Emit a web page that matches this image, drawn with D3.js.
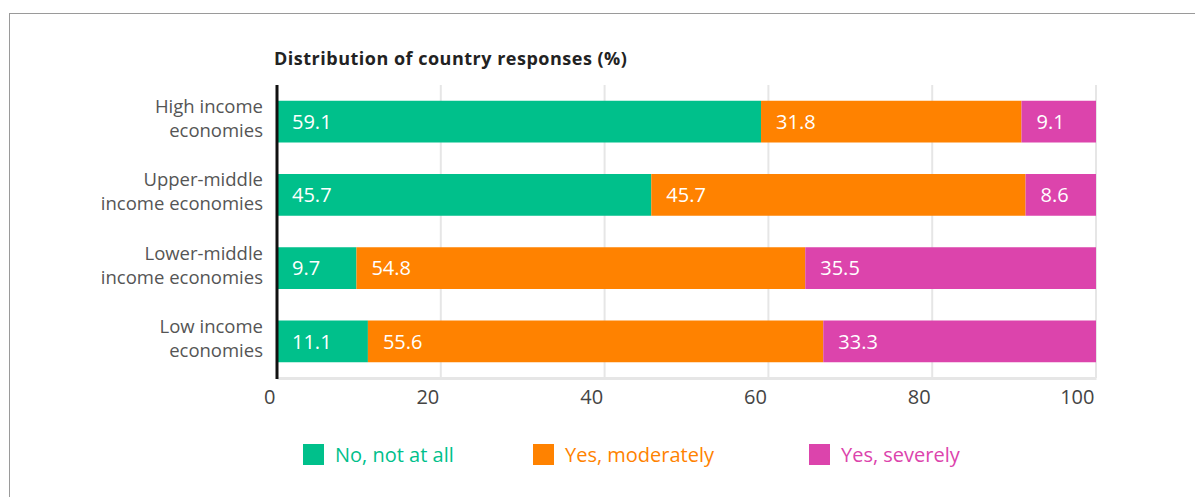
<!DOCTYPE html>
<html>
<head>
<meta charset="utf-8">
<script src="https://cdn.jsdelivr.net/npm/d3@7"></script>
<style>
  body { margin: 0; background: #fff; font-family: "Open Sans", sans-serif; }
  #chart svg { display: block; }
</style>
</head>
<body>
<div id="chart"></div>
<script>
const categories = [
  ["High income", "economies"],
  ["Upper-middle", "income economies"],
  ["Lower-middle", "income economies"],
  ["Low income", "economies"]
];
const seriesNames = ["No, not at all", "Yes, moderately", "Yes, severely"];
const noValues = [59.1, 45.7, 9.7, 11.1];
const moderateValues = [31.8, 45.7, 54.8, 55.6];
const severeValues = [9.1, 8.6, 35.5, 33.3];
const tickValues = [0, 20, 40, 60, 80, 100];
const colors = ["#00c08b", "#ff8200", "#dc44ac"];

const W = 1195, H = 497;
const margin = { top: 85, right: 99, bottom: 119, left: 277 };
const width = W - margin.left - margin.right;
const height = H - margin.top - margin.bottom;
const font = "'Open Sans', sans-serif";

const svg = d3.select("#chart").append("svg")
  .attr("width", W).attr("height", H)
  .attr("font-family", font);

// outer frame
svg.append("rect")
  .attr("x", 9.5).attr("y", 13.5)
  .attr("width", W + 20).attr("height", H + 20)
  .attr("fill", "none").attr("stroke", "#9a9a9a");

svg.append("text")
  .attr("x", 274).attr("y", 65)
  .attr("font-size", 18).attr("font-weight", 700).attr("fill", "#222")
  .attr("letter-spacing", 0.5)
  .text("Distribution of country responses (%)");

const g = svg.append("g").attr("transform", `translate(${margin.left},${margin.top})`);

const x = d3.scaleLinear().domain([0, 100]).range([0, width]);
const y = d3.scaleBand().domain(d3.range(categories.length)).range([0, height])
  .paddingInner(0.43).paddingOuter(0.215);

// grid lines
g.append("g").selectAll("line").data(tickValues.slice(1)).join("line")
  .attr("x1", d => x(d)).attr("x2", d => x(d))
  .attr("y1", 0).attr("y2", height)
  .attr("stroke", "#e6e6e6").attr("stroke-width", 2);

// bottom axis
const xAxis = g.append("g").attr("transform", `translate(0,${height})`)
  .call(d3.axisBottom(x).tickValues(tickValues).tickSize(0).tickPadding(9));
xAxis.select(".domain").attr("stroke", "#e6e6e6").attr("stroke-width", 3);
xAxis.selectAll("text")
  .attr("font-size", 20).attr("fill", "#444")
  .attr("font-family", font)
  .attr("text-anchor", "end").attr("dx", -2).attr("dy", "0.85em");

// stacked data
const rows = categories.map((c, i) => ({ i, no: noValues[i], mod: moderateValues[i], sev: severeValues[i] }));
const stack = d3.stack().keys(["no", "mod", "sev"])(rows);

const layers = g.append("g").selectAll("g").data(stack).join("g")
  .attr("fill", (d, k) => colors[k]);

layers.selectAll("rect").data(d => d).join("rect")
  .attr("x", d => x(d[0]))
  .attr("y", d => y(d.data.i))
  .attr("width", d => x(d[1]) - x(d[0]))
  .attr("height", y.bandwidth());

layers.selectAll("text").data(d => d.map(p => ({ p, key: d.key }))).join("text")
  .attr("x", d => x(d.p[0]) + 15)
  .attr("y", d => y(d.p.data.i) + y.bandwidth() / 2)
  .attr("dy", "0.36em")
  .attr("fill", "#fff").attr("font-size", 20)
  .text(d => d.p.data[d.key].toFixed(1));

// y labels
const yl = g.append("g").selectAll("text").data(categories).join("text")
  .attr("x", -14)
  .attr("y", (d, i) => y(i) + y.bandwidth() / 2 - 2)
  .attr("text-anchor", "end").attr("font-size", 18.5).attr("fill", "#555");
yl.selectAll("tspan").data(d => d).join("tspan")
  .attr("x", -14)
  .attr("dy", (d, j) => j === 0 ? "-0.35em" : "1.3em")
  .text(d => d);

// left axis line
g.append("line").attr("x1", 0).attr("x2", 0).attr("y1", 0).attr("y2", height + 1)
  .attr("stroke", "#111").attr("stroke-width", 3);

// legend
const legendX = [303, 533, 809];
const legend = svg.append("g").selectAll("g").data(seriesNames).join("g")
  .attr("transform", (d, i) => `translate(${legendX[i]},444)`);
legend.append("rect").attr("width", 21).attr("height", 21).attr("fill", (d, i) => colors[i]);
legend.append("text").attr("x", 32).attr("y", 11).attr("dy", "0.36em")
  .attr("font-size", 20).attr("fill", (d, i) => colors[i]).text(d => d);
</script>
</body>
</html>
